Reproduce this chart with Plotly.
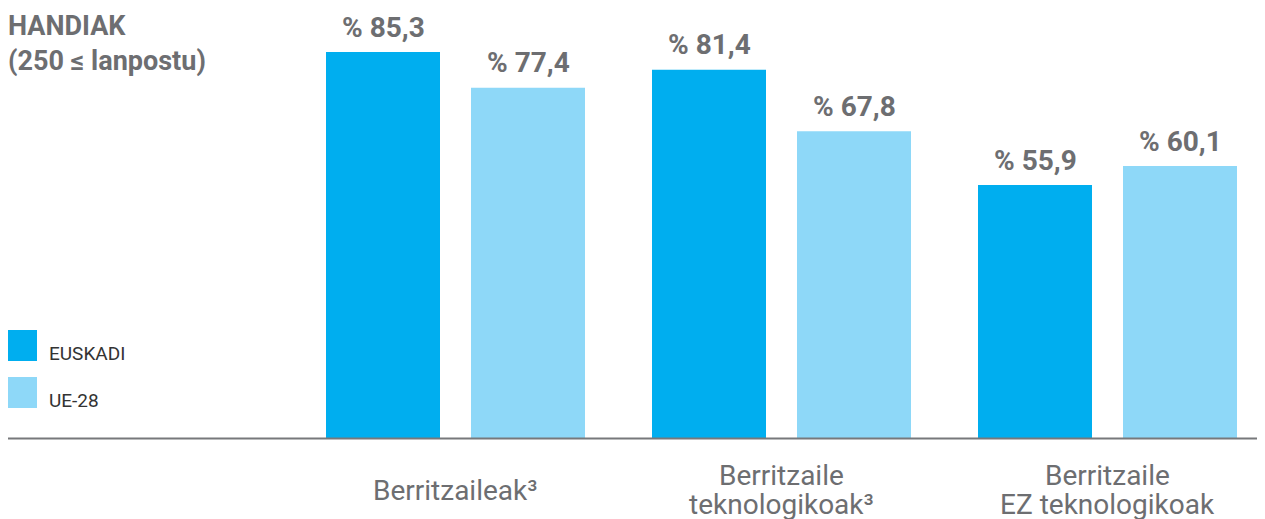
import plotly.graph_objects as go

categories = ["Berritzaileak³", "Berritzaile<br>teknologikoak³", "Berritzaile<br>EZ teknologikoak"]
series_names = ["EUSKADI", "UE-28"]
euskadi = [85.3, 81.4, 55.9]
ue28 = [77.4, 67.8, 60.1]
colors = ["#00AEEF", "#8ED8F8"]
title_lines = ["HANDIAK", "(250 ≤ lanpostu)"]

# page body adds an 8px offset; work in page pixels and convert
OFF = 8
PAGE_W, PAGE_H = 1265, 519
W, H = PAGE_W - OFF, PAGE_H - OFF
BASE = 438                 # page pixel row of zero line
PLOT_H = BASE - OFF        # plot area height in px (top of plot at page y=8)
TEXT = "#6D6E71"
FONT = "Roboto"


def px(x):
    return (x - OFF) / W


def py(y):
    return (BASE - y) / PLOT_H


fig = go.Figure()
xs = list(range(len(categories)))
for name, vals, col in zip(series_names, [euskadi, ue28], colors):
    fig.add_trace(go.Bar(x=xs, y=vals, name=name, marker=dict(color=col, line=dict(width=0)),
                         showlegend=False))

bargap = 0.1104
annotations = []
# value labels
for k, vals in enumerate([euskadi, ue28]):
    for i, v in enumerate(vals):
        off = (-0.5 + k) * (1 - bargap) / 2
        annotations.append(dict(x=i + off, y=v, xref="x", yref="y", text=("%% %.1f" % v).replace(".", ","),
                                showarrow=False, yanchor="middle", yshift=25,
                                font=dict(family=FONT, size=28, color=TEXT, weight="bold")))
# category labels, each line placed separately for tight line spacing
for i, c in enumerate(categories):
    lines = c.split("<br>")
    n = len(lines)
    for j, ln in enumerate(lines):
        yc = 490 + (j - (n - 1) / 2) * 29
        annotations.append(dict(x=i, y=py(yc), xref="x", yref="paper", text=ln, showarrow=False,
                                yanchor="middle", xanchor="center",
                                font=dict(family=FONT, size=28, color=TEXT)))
# title, one annotation per line
for j, t in enumerate(title_lines):
    annotations.append(dict(x=px(6), y=py(26 + 35 * j), xref="paper", yref="paper", xanchor="left",
                            yanchor="middle", text=t, align="left", showarrow=False,
                            font=dict(family=FONT, size=27, color=TEXT, weight="bold")))
# legend
shapes = []
for k, (name, col) in enumerate(zip(series_names, colors)):
    top = 330 + 47 * k
    shapes.append(dict(type="rect", xref="paper", yref="paper", x0=px(6), x1=px(37),
                       y0=py(top + 31), y1=py(top), fillcolor=col, line=dict(width=0)))
    annotations.append(dict(x=px(47), y=py(top + 23), xref="paper", yref="paper",
                            xanchor="left", yanchor="middle", text=name, showarrow=False,
                            font=dict(family=FONT, size=19, color="#333333")))
# baseline
shapes.append(dict(type="line", xref="paper", yref="paper", x0=px(8), x1=1.0, y0=py(438.5), y1=py(438.5),
                   line=dict(color="#77787B", width=2), layer="above"))

px_per_unit = 386 / 85.3
fig.update_layout(
    width=W, height=H, margin=dict(l=0, r=0, t=0, b=H - PLOT_H),
    barmode="group", bargap=bargap, bargroupgap=0.2138,
    plot_bgcolor="white", paper_bgcolor="white",
    xaxis=dict(range=[(OFF - 455.5) / 326, (PAGE_W - 455.5) / 326], showticklabels=False, showgrid=False,
               zeroline=False, showline=False, fixedrange=True),
    yaxis=dict(range=[0, PLOT_H / px_per_unit], showticklabels=False, showgrid=False,
               zeroline=False, showline=False, fixedrange=True),
    annotations=annotations, shapes=shapes, showlegend=False,
)
fig.write_html("out.html")
